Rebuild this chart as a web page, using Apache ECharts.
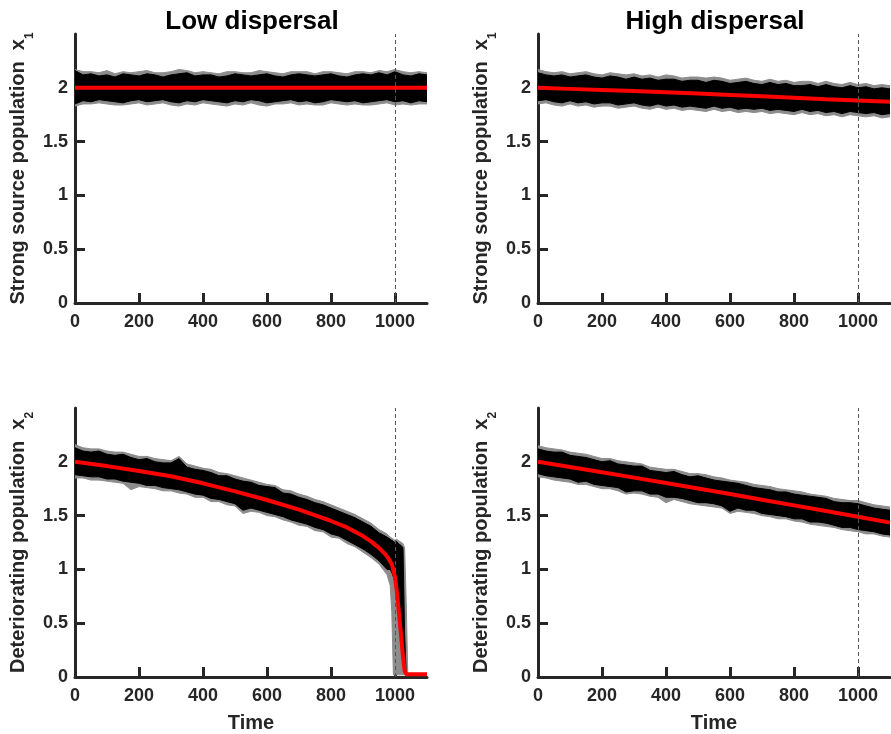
<!DOCTYPE html>
<html><head><meta charset="utf-8">
<script src="https://cdn.jsdelivr.net/npm/echarts@6/dist/echarts.min.js"></script>
<style>html,body{margin:0;padding:0;background:#fff}#c{width:891px;height:734px}</style>
</head><body><div id="c"></div>
<script>
// ---------- data ----------
const T = [0,25,50,75,100,125,150,175,200,225,250,275,300,325,350,375,400,425,450,475,500,525,550,575,600,625,650,675,700,725,750,775,800,825,850,875,900,925,950,975,1000,1025,1050,1075,1100];
const xTicks = [0,200,400,600,800,1000];
const yTicks = [0,0.5,1,1.5,2];
const meanT = [0,100,200,300,400,500,600,700,800,900,1000,1100];

// Top-left: low dispersal, strong source x1
const TL_mean = [2,2,2,2,2,2,2,2,2,2,2,2];
const TL_bHi = [2.16,2.12,2.13,2.11,2.12, 2.10,2.13,2.12,2.11,2.13, 2.12,2.10,2.12,2.13,2.14, 2.11,2.12,2.12,2.10,2.11, 2.13,2.12,2.11,2.12,2.13, 2.11,2.10,2.12,2.13,2.12, 2.11,2.12,2.13,2.11,2.10, 2.12,2.13,2.12,2.14,2.12, 2.15,2.12,2.11,2.13,2.12];
const TL_bLo = [1.85,1.88,1.87,1.89,1.88, 1.87,1.86,1.88,1.89,1.87, 1.88,1.89,1.87,1.86,1.88, 1.87,1.89,1.88,1.87,1.86, 1.88,1.87,1.89,1.88,1.86, 1.87,1.88,1.89,1.87,1.88, 1.86,1.87,1.89,1.88,1.87, 1.88,1.86,1.87,1.88,1.89, 1.87,1.88,1.86,1.88,1.87];
const TL_gHi = [2.17,2.15,2.15,2.14,2.16, 2.13,2.15,2.14,2.15,2.16, 2.14,2.14,2.15,2.17,2.16, 2.14,2.15,2.14,2.13,2.15, 2.15,2.14,2.14,2.16,2.15, 2.14,2.13,2.15,2.15,2.15, 2.13,2.15,2.15,2.14,2.13, 2.15,2.15,2.14,2.16,2.15, 2.17,2.15,2.14,2.15,2.14];
const TL_gLo = [1.83,1.85,1.85,1.86,1.85, 1.84,1.84,1.85,1.86,1.84, 1.85,1.86,1.84,1.83,1.85, 1.84,1.86,1.85,1.84,1.83, 1.85,1.84,1.86,1.84,1.83, 1.85,1.85,1.86,1.84,1.85, 1.84,1.84,1.86,1.85,1.84, 1.85,1.84,1.84,1.85,1.86, 1.84,1.85,1.84,1.85,1.85];

// Top-right: high dispersal, strong source x1
const TR_mean = [2.000,1.990,1.980,1.970,1.958,1.946,1.934,1.921,1.908,1.894,1.882,1.870];
const TR_bHi = [2.14,2.12,2.11,2.12,2.10, 2.11,2.12,2.10,2.09,2.11, 2.10,2.08,2.10,2.08,2.09, 2.07,2.08,2.08,2.06,2.07, 2.07,2.05,2.07,2.06,2.04, 2.05,2.06,2.04,2.03,2.05, 2.03,2.04,2.02,2.02,2.03, 2.01,2.03,2.01,2.00,2.02, 2.00,2.01,1.99,2.00,1.99];
const TR_bLo = [1.88,1.89,1.87,1.86,1.88, 1.86,1.87,1.85,1.86,1.86, 1.84,1.85,1.86,1.84,1.83, 1.85,1.83,1.84,1.82,1.83, 1.82,1.81,1.83,1.81,1.82, 1.80,1.81,1.80,1.81,1.79, 1.80,1.79,1.78,1.80,1.78, 1.79,1.77,1.78,1.76,1.78, 1.77,1.76,1.77,1.75,1.76];
const TR_gHi = [2.17,2.15,2.14,2.15,2.13, 2.14,2.15,2.13,2.12,2.14, 2.13,2.12,2.13,2.11,2.12, 2.10,2.12,2.11,2.09,2.10, 2.10,2.09,2.10,2.09,2.07, 2.08,2.09,2.07,2.06,2.08, 2.06,2.07,2.05,2.06,2.06, 2.04,2.06,2.04,2.03,2.05, 2.03,2.04,2.02,2.03,2.02];
const TR_gLo = [1.85,1.86,1.84,1.83,1.85, 1.83,1.84,1.82,1.83,1.83, 1.81,1.82,1.83,1.81,1.80, 1.82,1.80,1.81,1.79,1.80, 1.79,1.78,1.80,1.78,1.79, 1.77,1.78,1.77,1.78,1.76, 1.77,1.76,1.75,1.77,1.75, 1.76,1.74,1.75,1.73,1.75, 1.74,1.73,1.74,1.72,1.73];

// Bottom-left: low dispersal, deteriorating x2 (collapse after t = 1000)
const BL_T = [0,25,50,75,100,125,150,175,200,225,250,275,300,325,350,375,400,425,450,475,500,525,550,575,600,625,650,675,700,725,750,775,800,825,850,875,900,925,950,975,985,990,995,1000,1005,1010,1015,1020,1025,1030,1035,1040,1050,1075,1100];
const BL_meanT = [0,100,200,300,400,500,600,700,800,850,900,925,950,970,980,990,1000,1005,1010,1015,1020,1025,1030,1035,1040,1100];
const BL_mean = [2.00,1.96,1.915,1.865,1.80,1.725,1.645,1.555,1.45,1.39,1.31,1.26,1.20,1.14,1.10,1.05,0.93,0.81,0.67,0.51,0.35,0.19,0.06,0.025,0.025,0.025];
const BL_bHi = [2.13,2.10,2.09,2.10,2.07, 2.06,2.07,2.04,2.02,2.03, 2.00,1.99,1.99,2.03,1.95, 1.93,1.92,1.90,1.87,1.87, 1.84,1.82,1.81,1.78,1.77, 1.76,1.71,1.70,1.67,1.65, 1.62,1.60,1.57,1.54,1.51, 1.48,1.44,1.40,1.34,1.30,
  1.28,1.27,1.26,1.25,1.26,1.24,1.23,1.22,1.20,0.40,0.03,0.02,0.02,0.02,0.02];
const BL_bLo = [1.88,1.87,1.86,1.86,1.84, 1.84,1.82,1.81,1.80,1.78, 1.78,1.76,1.75,1.74,1.72, 1.70,1.69,1.66,1.65,1.63, 1.61,1.55,1.57,1.55,1.53, 1.51,1.49,1.46,1.44,1.42, 1.39,1.37,1.33,1.31,1.27, 1.23,1.19,1.14,1.08,1.00,
  1.00,0.97,0.93,0.88,0.76,0.62,0.47,0.32,0.15,0.03,0.02,0.02,0.02,0.02,0.02];
const BL_gHi = [2.16,2.13,2.12,2.12,2.10, 2.09,2.09,2.07,2.05,2.05, 2.03,2.02,2.01,2.05,1.98, 1.96,1.94,1.93,1.90,1.89, 1.87,1.85,1.83,1.81,1.79, 1.78,1.74,1.73,1.70,1.68, 1.65,1.63,1.60,1.57,1.54, 1.51,1.47,1.43,1.37,1.33,
  1.30,1.29,1.28,1.27,1.28,1.27,1.26,1.25,1.24,1.20,0.70,0.02,0.02,0.02,0.02];
const BL_gLo = [1.85,1.85,1.83,1.83,1.82, 1.81,1.80,1.74,1.77,1.76, 1.75,1.73,1.73,1.71,1.70, 1.67,1.67,1.63,1.63,1.60, 1.59,1.52,1.54,1.53,1.50, 1.49,1.46,1.44,1.41,1.40, 1.36,1.35,1.30,1.29,1.24, 1.21,1.16,1.11,1.05,0.95,
  0.85,0.60,0.02,0.02,0.02,0.02,0.02,0.02,0.02,0.02,0.02,0.02,0.02,0.02,0.02];

// Bottom-right: high dispersal, deteriorating x2
const BR_mean = [2.000,1.952,1.903,1.853,1.803,1.752,1.700,1.648,1.595,1.542,1.489,1.435];
const BR_bHi = [2.12,2.10,2.09,2.09,2.06, 2.05,2.04,2.02,2.00,2.01, 1.98,1.97,1.96,1.96,1.92, 1.91,1.90,1.91,1.88,1.86, 1.87,1.85,1.83,1.82,1.81, 1.80,1.78,1.76,1.75,1.74, 1.72,1.72,1.70,1.69,1.68, 1.67,1.66,1.63,1.62,1.62, 1.61,1.59,1.57,1.56,1.55];
const BR_bLo = [1.89,1.87,1.86,1.85,1.84, 1.81,1.82,1.79,1.78,1.77, 1.76,1.72,1.73,1.73,1.70, 1.70,1.67,1.67,1.66,1.64, 1.62,1.62,1.61,1.59,1.54, 1.57,1.55,1.55,1.52,1.51, 1.50,1.49,1.47,1.47,1.44, 1.44,1.43,1.41,1.39,1.39, 1.37,1.36,1.35,1.33,1.32];
const BR_gHi = [2.15,2.13,2.12,2.11,2.09, 2.08,2.07,2.05,2.03,2.03, 2.01,2.00,1.99,1.98,1.95, 1.94,1.93,1.93,1.91,1.89, 1.89,1.88,1.86,1.85,1.83, 1.82,1.81,1.79,1.78,1.77, 1.75,1.74,1.73,1.72,1.70, 1.69,1.68,1.66,1.65,1.64, 1.64,1.62,1.60,1.59,1.58];
const BR_gLo = [1.86,1.85,1.83,1.82,1.81, 1.79,1.79,1.77,1.75,1.75, 1.73,1.70,1.71,1.70,1.68, 1.67,1.62,1.65,1.63,1.61, 1.60,1.59,1.58,1.57,1.52, 1.54,1.53,1.52,1.50,1.49, 1.47,1.47,1.45,1.44,1.42, 1.41,1.40,1.39,1.37,1.36, 1.35,1.33,1.33,1.31,1.30];

const titles = ['Low dispersal', 'High dispersal'];
const yNames = ['{a|Strong source population  x}{s|1}', '{a|Deteriorating population  x}{s|2}'];
const xName = 'Time';

// ---------- chart ----------
const FONT = '"Liberation Sans", Arial, Helvetica, sans-serif';
const AX = '#262626';
const grids = [
  {left: 75, top: 34, width: 352, height: 269},
  {left: 538, top: 34, width: 352, height: 269},
  {left: 75, top: 408, width: 352, height: 269},
  {left: 538, top: 408, width: 352, height: 269}
];
const panels = [
  {t: T, gHi: TL_gHi, gLo: TL_gLo, bHi: TL_bHi, bLo: TL_bLo, mt: meanT, m: TL_mean},
  {t: T, gHi: TR_gHi, gLo: TR_gLo, bHi: TR_bHi, bLo: TR_bLo, mt: meanT, m: TR_mean},
  {t: BL_T, gHi: BL_gHi, gLo: BL_gLo, bHi: BL_bHi, bLo: BL_bLo, mt: BL_meanT, m: BL_mean},
  {t: T, gHi: BR_gHi, gLo: BR_gLo, bHi: BR_bHi, bLo: BR_bLo, mt: meanT, m: BR_mean}
];

function xAxis(gi) {
  const bottom = gi >= 2;
  return {
    type: 'value', gridIndex: gi, min: 0, max: 1100,
    name: bottom ? xName : '', nameLocation: 'middle', nameGap: 36,
    nameTextStyle: {fontFamily: FONT, fontSize: 20, fontWeight: 'bold', color: AX},
    axisLine: {show: true, onZero: false, lineStyle: {color: AX, width: 3}},
    axisTick: {show: true, inside: true, length: 10, customValues: xTicks, lineStyle: {color: AX, width: 3}},
    axisLabel: {customValues: xTicks, formatter: function (v) { return String(v); },
      fontFamily: FONT, fontSize: 18, fontWeight: 'bold', color: AX, margin: 10},
    splitLine: {show: false}
  };
}
function yAxis(gi) {
  const bottom = gi >= 2;
  return {
    type: 'value', gridIndex: gi, min: 0, max: 2.5,
    name: yNames[bottom ? 1 : 0], nameLocation: 'middle', nameGap: 39,
    nameTextStyle: {
      fontFamily: FONT, fontSize: 20, fontWeight: 'bold', color: AX,
      rich: {
        a: {fontFamily: FONT, fontSize: 20, fontWeight: 'bold', color: AX, lineHeight: 36},
        s: {fontFamily: FONT, fontSize: 12, fontWeight: 'bold', color: AX, lineHeight: 12, verticalAlign: 'bottom'}
      }
    },
    axisLine: {show: true, onZero: false, lineStyle: {color: AX, width: 3}},
    axisTick: {show: true, inside: true, length: 10, customValues: yTicks, lineStyle: {color: AX, width: 3}},
    axisLabel: {customValues: yTicks, fontFamily: FONT, fontSize: 18, fontWeight: 'bold', color: AX, margin: 7},
    splitLine: {show: false}
  };
}
function band(gi, ts, hi, lo, color, z) {
  return {
    type: 'custom', xAxisIndex: gi, yAxisIndex: gi, silent: true, clip: true, z: z,
    data: [[ts[0], lo[0]]],
    renderItem: function (params, api) {
      const pts = [];
      for (let i = 0; i < ts.length; i++) pts.push(api.coord([ts[i], hi[i]]));
      for (let i = ts.length - 1; i >= 0; i--) pts.push(api.coord([ts[i], lo[i]]));
      return {type: 'polygon', shape: {points: pts}, style: {fill: color, stroke: color, lineWidth: 1}};
    }
  };
}

const series = [];
panels.forEach(function (p, gi) {
  series.push(band(gi, p.t, p.gHi, p.gLo, '#8c8c8c', 1));
  series.push(band(gi, p.t, p.bHi, p.bLo, '#000000', 2));
  series.push({
    type: 'line', xAxisIndex: gi, yAxisIndex: gi, z: 3, silent: true,
    showSymbol: false, symbol: 'none', animation: false,
    data: p.mt.map(function (t, i) { return [t, p.m[i]]; }),
    lineStyle: {color: '#ff0000', width: 4}
  });
  series.push({
    type: 'line', xAxisIndex: gi, yAxisIndex: gi, z: 5, data: [], silent: true,
    markLine: {
      silent: true, symbol: 'none', label: {show: false}, animation: false,
      lineStyle: {color: '#555555', width: 1, type: [4, 3]},
      data: [{xAxis: 1000}]
    }
  });
});

const chart = echarts.init(document.getElementById('c'), null, {renderer: 'canvas'});
chart.setOption({
  animation: false,
  backgroundColor: '#ffffff',
  title: [
    {text: titles[0], left: 247, top: 4, textAlign: 'center', textStyle: {fontFamily: FONT, fontSize: 26, fontWeight: 'bold', color: '#000'}},
    {text: titles[1], left: 710, top: 4, textAlign: 'center', textStyle: {fontFamily: FONT, fontSize: 26, fontWeight: 'bold', color: '#000'}}
  ],
  grid: grids,
  xAxis: [0, 1, 2, 3].map(xAxis),
  yAxis: [0, 1, 2, 3].map(yAxis),
  series: series
});
</script></body></html>
